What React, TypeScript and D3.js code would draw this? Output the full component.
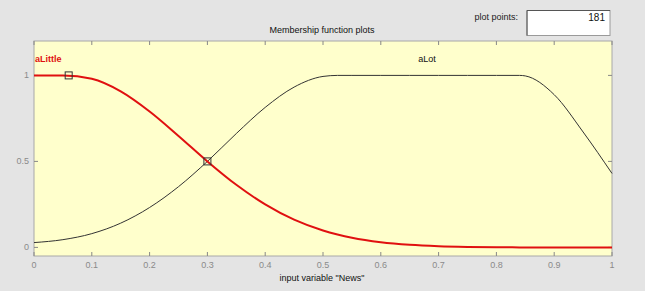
import React from "react";
import * as d3 from "d3";

// input variable "News", sampled where the curves were read
const newsX = [0, 0.05, 0.1, 0.15, 0.2, 0.25, 0.3, 0.35, 0.4, 0.45, 0.5, 0.525, 0.55, 0.6, 0.65, 0.7, 0.75, 0.8, 0.84, 0.85, 0.9, 0.95, 1];
const aLittle = [1, 1, 0.98, 0.907, 0.79, 0.648, 0.5, 0.364, 0.25, 0.161, 0.098, 0.075, 0.056, 0.03, 0.015, 0.007, 0.003, 0.001, 0, 0, 0, 0, 0];
const aLot = [0.028, 0.045, 0.08, 0.141, 0.232, 0.353, 0.5, 0.662, 0.814, 0.932, 0.994, 1, 1, 1, 1, 1, 1, 1, 1, 0.997, 0.888, 0.671, 0.43];
const markers = [{ x: 0.06, y: 1 }, { x: 0.3, y: 0.5 }];
const xTicks = [0, 0.1, 0.2, 0.3, 0.4, 0.5, 0.6, 0.7, 0.8, 0.9, 1];
const yTicks = [0, 0.5, 1];

const W = 645, H = 291;
const left = 34, right = 612, top = 41, bottom = 256;
const font = "'Liberation Sans', Arial, sans-serif";

export default function App() {
  const x = d3.scaleLinear().domain([0, 1]).range([left, right]);
  const y = d3.scaleLinear().domain([-0.05, 1.2]).range([bottom, top]);
  const line = d3.line<number>()
    .x((d, i) => x(newsX[i]))
    .y(d => y(d))
    .curve(d3.curveMonotoneX);

  return (
    <svg width={W} height={H} style={{ position: "absolute", left: 0, top: 0 }} fontFamily={font}>
      <rect width={W} height={H} fill="#e4e4e4" />
      <text x={518} y={20} fontSize={9} textAnchor="end" fill="#222">plot points:</text>
      <rect x={527} y={10.5} width={83} height={25} fill="#fff" stroke="#9a9a9a" />
      <line x1={527} y1={10.5} x2={610} y2={10.5} stroke="#555" />
      <line x1={527} y1={10.5} x2={527} y2={35.5} stroke="#555" />
      <text x={605} y={21} fontSize={10} textAnchor="end" fill="#111">181</text>
      <text x={322} y={33} fontSize={9} textAnchor="middle" fill="#111">Membership function plots</text>

      <rect x={left} y={top} width={right - left} height={bottom - top} fill="#ffffcc" stroke="#a8a8a8" />
      {xTicks.map(t => (
        <g key={"x" + t}>
          <line x1={x(t)} x2={x(t)} y1={bottom} y2={bottom - 4} stroke="#888" />
          <line x1={x(t)} x2={x(t)} y1={top} y2={top + 4} stroke="#888" />
          <text x={x(t)} y={268} fontSize={9} textAnchor="middle" fill="#8a8a8a">{t}</text>
        </g>
      ))}
      {yTicks.map(t => (
        <g key={"y" + t}>
          <line x1={left} x2={left + 4} y1={y(t)} y2={y(t)} stroke="#888" />
          <line x1={right} x2={right - 4} y1={y(t)} y2={y(t)} stroke="#888" />
          <text x={29} y={y(t) + 3} fontSize={9} textAnchor="end" fill="#8a8a8a">{t}</text>
        </g>
      ))}
      <text x={322} y={281} fontSize={9} textAnchor="middle" fill="#111">input variable "News"</text>

      <path d={line(aLot) || ""} fill="none" stroke="#333" strokeWidth={1} />
      <path d={line(aLittle) || ""} fill="none" stroke="#e01010" strokeWidth={2} />
      {markers.map((m, i) => (
        <rect key={i} x={x(m.x) - 3.5} y={y(m.y) - 3.5} width={7} height={7} fill="none" stroke="#333" />
      ))}
      <text x={35} y={62} fontSize={9} fontWeight="bold" fill="#e01010">aLittle</text>
      <text x={427} y={62} fontSize={9} textAnchor="middle" fill="#111">aLot</text>
    </svg>
  );
}
